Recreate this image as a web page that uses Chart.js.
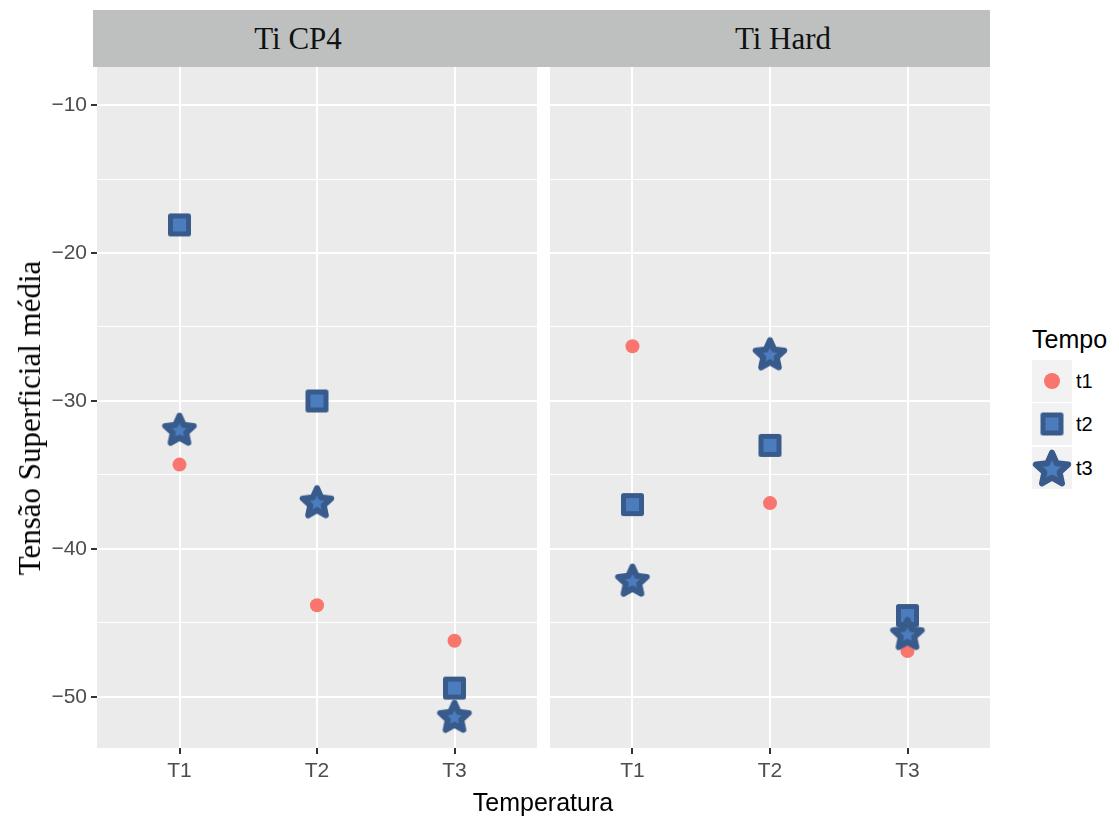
<!DOCTYPE html>
<html>
<head>
<meta charset="utf-8">
<script src="https://cdn.jsdelivr.net/npm/chart.js@4.4.1/dist/chart.umd.min.js"></script>
<style>
  body { margin: 0; background: #fff; width: 1119px; height: 819px; position: relative; overflow: hidden;
         font-family: "Liberation Sans", Arial, sans-serif; }
  .strip { position: absolute; left: 93px; top: 10px; width: 897px; height: 57px; background: #BEC0BF; }
  .strip-label { position: absolute; top: 39px; transform: translate(-50%, -50%); white-space: nowrap;
                 font-family: "Liberation Serif", "Times New Roman", serif; font-size: 31px; color: #111; }
  .panel { position: absolute; top: 67px; height: 752px; }
  .ytitle { position: absolute; left: 30px; top: 418px; transform: translate(-50%, -50%) rotate(-90deg);
            white-space: nowrap; font-family: "Liberation Serif", "Times New Roman", serif; font-size: 31px; color: #000; }
  .xtitle { position: absolute; left: 543px; top: 802px; transform: translate(-50%, -50%);
            font-size: 25px; color: #000; white-space: nowrap; }
  .legend-title { position: absolute; left: 1032px; top: 339px; transform: translateY(-50%); font-size: 25px; color: #000; }
  .key { position: absolute; left: 1032px; width: 40px; height: 42px; background: #F2F2F2; }
  .key canvas { position: absolute; left: 50%; top: 50%; transform: translate(-50%, -50%); }
  .key-label { position: absolute; left: 1076px; transform: translateY(-50%); font-size: 20px; color: #000; }
</style>
</head>
<body>
<div class="strip"></div>
<div class="strip-label" style="left:298px">Ti CP4</div>
<div class="strip-label" style="left:783px">Ti Hard</div>

<div class="panel" style="left:0; width:537px"><canvas id="cp4"></canvas></div>
<div class="panel" style="left:550px; width:440px"><canvas id="hard"></canvas></div>

<div class="ytitle">Tensão Superficial média</div>
<div class="xtitle">Temperatura</div>

<div class="legend-title">Tempo</div>
<div id="legend"></div>

<script>
const categories = ['T1', 'T2', 'T3'];
const tempos = ['t1', 't2', 't3'];

// Ti CP4, one value per temperature (T1, T2, T3)
const cp4Tempo1 = [-34.3, -43.8, -46.2];
const cp4Tempo2 = [-18.1, -30.0, -49.4];
const cp4Tempo3 = [-31.9, -36.8, -51.3];

// Ti Hard
const hardTempo1 = [-26.3, -36.9, -46.9];
const hardTempo2 = [-37.0, -33.0, -44.5];
const hardTempo3 = [-42.1, -26.8, -45.7];

const yMin = -53.45;
const yMax = -7.43;

const RED = '#F8766D';
const BLUE_EDGE = '#385B8C';
const BLUE_FILL = '#4A7CBE';

function makeSquare(side, stroke) {
  const size = Math.ceil(side + stroke + 2);
  const c = document.createElement('canvas');
  c.width = size; c.height = size;
  const ctx = c.getContext('2d');
  const o = (size - side) / 2;
  ctx.lineJoin = 'round';
  ctx.fillStyle = BLUE_FILL;
  ctx.strokeStyle = BLUE_EDGE;
  ctx.lineWidth = stroke;
  ctx.fillRect(o, o, side, side);
  ctx.strokeRect(o, o, side, side);
  return c;
}

function makeStar(outer, stroke) {
  const inner = outer * 0.47;
  const size = Math.ceil(2 * outer + stroke + 2);
  const c = document.createElement('canvas');
  c.width = size; c.height = size;
  const ctx = c.getContext('2d');
  const cx = size / 2;
  const cy = size / 2 + outer * 0.1;
  ctx.beginPath();
  for (let i = 0; i < 10; i++) {
    const r = i % 2 === 0 ? outer : inner;
    const a = -Math.PI / 2 + i * Math.PI / 5;
    const px = cx + r * Math.cos(a);
    const py = cy + r * Math.sin(a);
    if (i === 0) ctx.moveTo(px, py); else ctx.lineTo(px, py);
  }
  ctx.closePath();
  ctx.lineJoin = 'round';
  ctx.fillStyle = BLUE_FILL;
  ctx.strokeStyle = BLUE_EDGE;
  ctx.lineWidth = stroke;
  ctx.fill();
  ctx.stroke();
  return c;
}

function makeDot(r) {
  const size = Math.ceil(2 * r + 2);
  const c = document.createElement('canvas');
  c.width = size; c.height = size;
  const ctx = c.getContext('2d');
  ctx.fillStyle = RED;
  ctx.beginPath();
  ctx.arc(size / 2, size / 2, r, 0, Math.PI * 2);
  ctx.fill();
  return c;
}

const squareImg = makeSquare(18, 5);
const starImg = makeStar(15, 6);

const panelBackground = {
  id: 'panelBackground',
  beforeDraw(chart) {
    const { ctx, chartArea: a } = chart;
    ctx.save();
    ctx.fillStyle = '#EBEBEB';
    ctx.fillRect(a.left, a.top, a.right - a.left, a.bottom - a.top);
    ctx.restore();
  }
};

const toPoints = vals => vals.map((v, i) => ({ x: i + 1, y: v }));

function buildChart(id, t1, t2, t3, showY) {
  const isMajor = ctx => ctx.tick && Math.round(ctx.tick.value) % 10 === 0;
  return new Chart(document.getElementById(id), {
    type: 'scatter',
    data: {
      datasets: [
        { label: tempos[0], data: toPoints(t1), order: 3, pointStyle: 'circle', pointRadius: 7,
          backgroundColor: RED, borderWidth: 0 },
        { label: tempos[1], data: toPoints(t2), order: 2, pointStyle: squareImg, pointRadius: 10 },
        { label: tempos[2], data: toPoints(t3), order: 1, pointStyle: starImg, pointRadius: 10 }
      ]
    },
    options: {
      responsive: true,
      maintainAspectRatio: false,
      animation: false,
      events: [],
      layout: { padding: 0, autoPadding: false },
      plugins: { legend: { display: false }, tooltip: { enabled: false } },
      scales: {
        x: {
          type: 'linear',
          min: 0.4,
          max: 3.6,
          afterFit(scale) {
            scale.height = 71;
            scale.paddingLeft = 0;
            scale.paddingRight = 0;
          },
          border: { display: false },
          grid: { color: '#FFFFFF', lineWidth: 2, tickColor: '#333333', tickWidth: 2, tickLength: 6 },
          ticks: {
            stepSize: 1,
            includeBounds: false,
            autoSkip: false,
            maxRotation: 0,
            padding: 5,
            color: '#4D4D4D',
            font: { family: '"Liberation Sans", Arial, sans-serif', size: 21 },
            callback: v => categories[Math.round(v) - 1] || ''
          }
        },
        y: {
          min: yMin,
          max: yMax,
          afterFit(scale) {
            scale.width = showY ? 97 : 0;
            scale.paddingTop = 0;
            scale.paddingBottom = 0;
          },
          border: { display: false },
          grid: {
            color: '#FFFFFF',
            lineWidth: ctx => isMajor(ctx) ? 2 : 1,
            drawTicks: showY,
            tickLength: 6,
            tickWidth: 2,
            tickColor: ctx => isMajor(ctx) ? '#333333' : 'rgba(0,0,0,0)'
          },
          ticks: {
            display: showY,
            stepSize: 5,
            includeBounds: false,
            autoSkip: false,
            padding: 4,
            color: '#4D4D4D',
            font: { family: '"Liberation Sans", Arial, sans-serif', size: 21 },
            callback: v => Math.round(v) % 10 === 0 ? String(v).replace('-', '\u2212') : ''
          }
        }
      }
    },
    plugins: [panelBackground]
  });
}

buildChart('cp4', cp4Tempo1, cp4Tempo2, cp4Tempo3, true);
buildChart('hard', hardTempo1, hardTempo2, hardTempo3, false);

// legend keys
const legend = document.getElementById('legend');
const keyImages = [makeDot(8), makeSquare(18, 5), makeStar(17, 6)];
const keyTops = [360, 403, 447];
tempos.forEach((name, i) => {
  const key = document.createElement('div');
  key.className = 'key';
  key.style.top = keyTops[i] + 'px';
  key.appendChild(keyImages[i]);
  legend.appendChild(key);
  const label = document.createElement('div');
  label.className = 'key-label';
  label.style.top = (keyTops[i] + 21) + 'px';
  label.textContent = name;
  legend.appendChild(label);
});
</script>
</body>
</html>
